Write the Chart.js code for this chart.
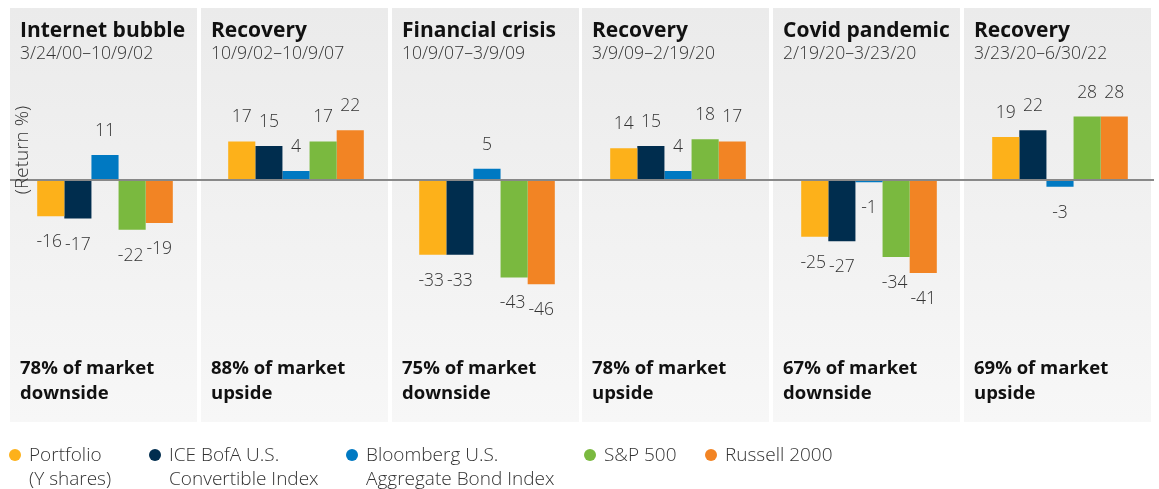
<!DOCTYPE html>
<html>
<head>
<meta charset="utf-8">
<script src="https://cdn.jsdelivr.net/npm/chart.js@4/dist/chart.umd.min.js"></script>
<style>
  body { margin: 0; background: #fff; }
  #wrap { position: relative; width: 1159px; height: 489px; }
  #leyenda { position: absolute; left: 0; top: 442px; width: 1159px; height: 47px;
    font-family: 'Open Sans', sans-serif; font-weight: 300; font-size: 19px; color: #333; line-height: 24px; }
  .item { position: absolute; top: 0; }
  .punto { position: absolute; left: 0; top: 7px; width: 12px; height: 12px; border-radius: 50%; }
  .texto { position: absolute; left: 20px; top: 0; white-space: nowrap; }
</style>
</head>
<body>
<div id="wrap">
  <canvas id="graficoCaptura"></canvas>
  <div id="leyenda"></div>
</div>
<script>
const periodos = ['Internet bubble', 'Recovery', 'Financial crisis', 'Recovery', 'Covid pandemic', 'Recovery']
const fechas = ['3/24/00–10/9/02', '10/9/02–10/9/07', '10/9/07–3/9/09', '3/9/09–2/19/20', '2/19/20–3/23/20', '3/23/20–6/30/22']
const captura = [
  ['78% of market', 'downside'],
  ['88% of market', 'upside'],
  ['75% of market', 'downside'],
  ['78% of market', 'upside'],
  ['67% of market', 'downside'],
  ['69% of market', 'upside'],
]

const portafolio = [-16, 17, -33, 14, -25, 19]
const convertible = [-17, 15, -33, 15, -27, 22]
const agregado = [11, 4, 5, 4, -1, -3]
const sp500 = [-22, 17, -43, 18, -34, 28]
const russell = [-19, 22, -46, 17, -41, 28]

const series = [
  { nombre: ['Portfolio', '(Y shares)'], valores: portafolio, color: '#FDB11A' },
  { nombre: ['ICE BofA U.S.', 'Convertible Index'], valores: convertible, color: '#002D4E' },
  { nombre: ['Bloomberg U.S.', 'Aggregate Bond Index'], valores: agregado, color: '#0079C2' },
  { nombre: ['S&P 500'], valores: sp500, color: '#7AB93F' },
  { nombre: ['Russell 2000'], valores: russell, color: '#F28424' },
]

// posiciones de la leyenda (x del punto)
const leyendaX = [9, 149, 346, 584, 705]

const fuente = "'Open Sans', sans-serif"

// paneles grises, titulos y textos de captura
const panelesPlugin = {
  id: 'paneles',
  beforeDatasetsDraw(chart) {
    const ctx = chart.ctx
    const x = chart.scales.x
    const ancho = (chart.chartArea.right - chart.chartArea.left) / periodos.length
    const top = 8, bottom = 422
    ctx.save()
    const grad = ctx.createLinearGradient(0, top, 0, bottom)
    grad.addColorStop(0, '#ebebeb')
    grad.addColorStop(1, '#f7f7f7')
    periodos.forEach((p, i) => {
      const cx = x.getPixelForValue(i)
      const izq = Math.round(cx - ancho / 2 + 0.5 - i * 0.25)
      ctx.fillStyle = grad
      ctx.fillRect(izq, top, ancho - 4, bottom - top)

      ctx.fillStyle = '#111'
      ctx.textAlign = 'left'
      ctx.textBaseline = 'middle'
      ctx.font = 'bold 21px ' + fuente
      ctx.fillText(p, izq + 10, 31)
      ctx.font = '300 17.6px ' + fuente
      ctx.fillStyle = '#333'
      ctx.fillText(fechas[i], izq + 10, 54)

      ctx.font = 'bold 18.5px ' + fuente
      ctx.fillStyle = '#111'
      captura[i].forEach((linea, j) => {
        ctx.fillText(linea, izq + 10, 369 + j * 25)
      })
    })
    ctx.restore()
  },
  afterDatasetsDraw(chart) {
    const ctx = chart.ctx
    const y = chart.scales.y
    const cero = y.getPixelForValue(0)
    ctx.save()
    // etiquetas de valores
    ctx.font = '300 17.5px ' + fuente
    ctx.fillStyle = '#333'
    ctx.textAlign = 'center'
    ctx.textBaseline = 'middle'
    periodos.forEach((p, i) => {
      const etiquetas = chart.data.datasets.map((ds, d) => {
        const bar = chart.getDatasetMeta(d).data[i]
        const v = ds.data[i]
        const texto = String(v)
        return {
          texto,
          x: bar.x,
          y: v >= 0 ? bar.y - 24 : bar.y + 26,
          w: ctx.measureText(texto).width,
        }
      })
      // separar etiquetas vecinas que se tocan, empujando la de la izquierda
      for (let k = etiquetas.length - 1; k > 0; k--) {
        const a = etiquetas[k - 1], b = etiquetas[k]
        if (Math.abs(a.y - b.y) < 16) {
          const falta = (a.w + b.w) / 2 + 3 - (b.x - a.x)
          if (falta > 0) a.x -= falta
        }
      }
      etiquetas.forEach((e) => ctx.fillText(e.texto, e.x, e.y))
    })
    // linea de cero
    ctx.strokeStyle = '#888'
    ctx.lineWidth = 2
    ctx.beginPath()
    ctx.moveTo(10, cero)
    ctx.lineTo(1154, cero)
    ctx.stroke()
    // titulo del eje
    ctx.translate(23, 150)
    ctx.rotate(-Math.PI / 2)
    ctx.font = '300 19px ' + fuente
    ctx.fillStyle = '#333'
    ctx.fillText('(Return %)', 0, 0)
    ctx.restore()
  }
}

const canvas = document.getElementById('graficoCaptura')

new Chart(canvas, {
  type: 'bar',
  data: {
    labels: periodos,
    datasets: series.map((s) => ({
      label: s.nombre.join(' '),
      data: s.valores,
      backgroundColor: s.color,
      borderWidth: 0,
      categoryPercentage: 0.71,
      barPercentage: 1,
    })),
  },
  options: {
    responsive: true,
    maintainAspectRatio: false,
    animation: false,
    layout: { padding: { top: 44, bottom: 173, left: 9.5, right: 3.5 } },
    plugins: {
      legend: { display: false },
      tooltip: { enabled: false },
    },
    scales: {
      x: { display: false },
      y: { display: false, min: -60, max: 60 },
    },
  },
  plugins: [panelesPlugin],
})

// leyenda html
const leyenda = document.getElementById('leyenda')
series.forEach((s, i) => {
  const item = document.createElement('div')
  item.className = 'item'
  item.style.left = leyendaX[i] + 'px'
  const punto = document.createElement('span')
  punto.className = 'punto'
  punto.style.background = s.color
  const texto = document.createElement('span')
  texto.className = 'texto'
  texto.innerHTML = s.nombre.join('<br>')
  item.appendChild(punto)
  item.appendChild(texto)
  leyenda.appendChild(item)
})
</script>
</body>
</html>
